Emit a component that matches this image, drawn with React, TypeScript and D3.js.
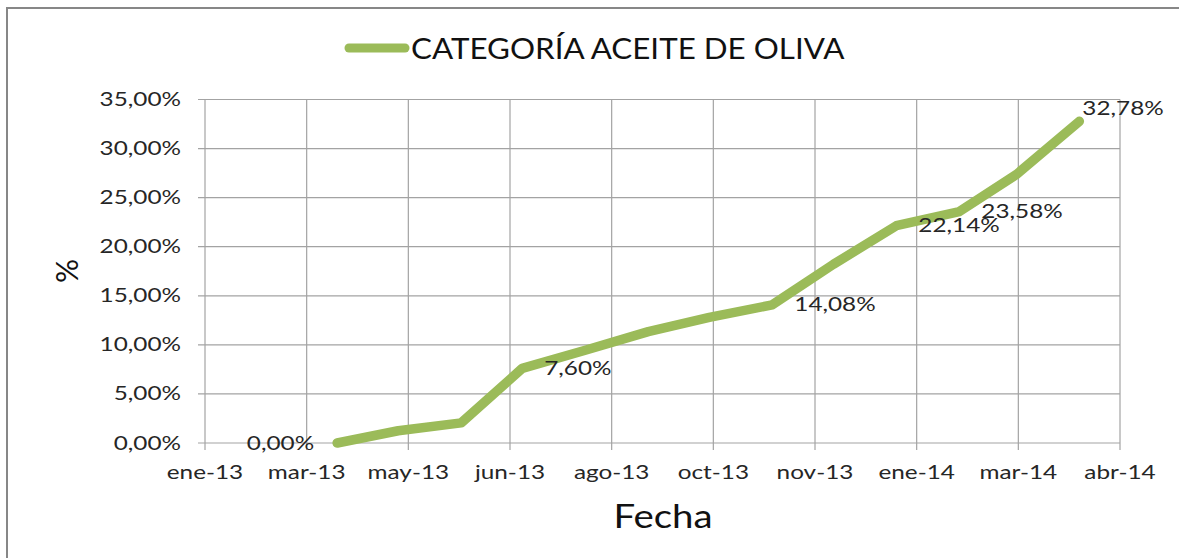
import React from "react";
import * as d3 from "d3";

// monthly share of the olive oil category (%)
const fechas = [
  "2013-04-01", "2013-05-01", "2013-06-01", "2013-07-01", "2013-08-01",
  "2013-09-01", "2013-10-01", "2013-11-01", "2013-12-01", "2014-01-01",
  "2014-02-01", "2014-03-01", "2014-04-01",
];
const cuota = [0, 1.25, 2.05, 7.6, 9.45, 11.35, 12.8, 14.08, 18.2, 22.14, 23.58, 27.35, 32.78];

// points that carry a data label
const etiquetados = [0, 3, 7, 9, 10, 12];

// x axis (date axis, major unit 50 days)
const ejeInicio = "2013-01-26";
const unidadDias = 50;
const etiquetasX = ["ene-13", "mar-13", "may-13", "jun-13", "ago-13", "oct-13", "nov-13", "ene-14", "mar-14", "abr-14"];

// y axis
const valoresY = [0, 5, 10, 15, 20, 25, 30, 35];
const etiquetasY = ["0,00%", "5,00%", "10,00%", "15,00%", "20,00%", "25,00%", "30,00%", "35,00%"];

const serie = "CATEGORÍA ACEITE DE OLIVA";

const W = 1179, H = 558;
const margin = { top: 99.5, right: 59, bottom: 115, left: 205 };
const VERDE = "#9bbb59";
const FONT = "Lato, 'Open Sans', sans-serif";
const SX = 1.28; // source picture is stretched horizontally

export default function App() {
  const parse = d3.utcParse("%Y-%m-%d");
  const t0 = parse(ejeInicio) as Date;
  const tickDates = etiquetasX.map((_, i) => d3.utcDay.offset(t0, i * unidadDias));

  const x = d3.scaleUtc()
    .domain([t0, tickDates[tickDates.length - 1]])
    .range([margin.left, W - margin.right]);
  const y = d3.scaleLinear()
    .domain([0, 35])
    .range([H - margin.bottom, margin.top]);

  const pts = fechas.map((f, i) => ({ d: parse(f) as Date, v: cuota[i] }));
  const line = d3.line<{ d: Date; v: number }>()
    .x(p => x(p.d))
    .y(p => y(p.v));

  const fmt = (v: number) => d3.format(".2f")(v).replace(".", ",") + "%";
  const y0 = y(0);

  return (
    <svg width={W} height={H} style={{ position: "absolute", left: 0, top: 0 }}>
      <rect x={0} y={0} width={W} height={H} fill="#fff" />
      <rect x={7} y={8} width={W + 10} height={H + 10} fill="none" stroke="#878787" strokeWidth={2} />

      {/* legend */}
      <line x1={349} x2={405} y1={48} y2={48} stroke={VERDE} strokeWidth={9} strokeLinecap="round" />
      <text transform={`translate(411,58.5) scale(1.12,1)`} fontFamily={FONT} fontSize={28} fill="#111">{serie}</text>

      {/* gridlines */}
      <g stroke="#a3a3a3" strokeWidth={1.2}>
        {valoresY.map(v => (
          <line key={"h" + v} x1={margin.left - 7} x2={W - margin.right} y1={y(v)} y2={y(v)} />
        ))}
        {tickDates.map((d, i) => (
          <line key={"v" + i} x1={x(d)} x2={x(d)} y1={margin.top} y2={y0 + 7} />
        ))}
      </g>

      {/* y tick labels */}
      <g fontFamily={FONT} fontSize={19} fill="#262626" textAnchor="end">
        {valoresY.map((v, i) => (
          <text key={v} transform={`translate(181,${y(v) + 6.5}) scale(${SX},1)`}>{etiquetasY[i]}</text>
        ))}
      </g>

      {/* x tick labels */}
      <g fontFamily={FONT} fontSize={19} fill="#262626" textAnchor="middle">
        {tickDates.map((d, i) => (
          <text key={i} transform={`translate(${x(d)},${y0 + 36}) scale(${SX},1)`}>{etiquetasX[i]}</text>
        ))}
      </g>

      {/* axis titles */}
      <text transform={`translate(663,528) scale(1.2,1)`} textAnchor="middle" fontFamily={FONT} fontSize={32} fill="#111">Fecha</text>
      <text transform={`translate(78,271) rotate(-90)`} textAnchor="middle" fontFamily={FONT} fontSize={30} fill="#111">%</text>

      {/* series */}
      <path d={line(pts) ?? ""} fill="none" stroke={VERDE} strokeWidth={9.5} strokeLinecap="round" strokeLinejoin="round" />

      {/* data labels */}
      <g fontFamily={FONT} fontSize={19} fill="#262626">
        {etiquetados.map(i => {
          const p = pts[i];
          const px = x(p.d), py = y(p.v);
          if (i === 0)
            return <text key={i} textAnchor="end" transform={`translate(${px - 23},${py + 6.5}) scale(${SX},1)`}>{fmt(p.v)}</text>;
          if (i === pts.length - 1)
            return <text key={i} transform={`translate(${px + 3},${py - 6.5}) scale(${SX},1)`}>{fmt(p.v)}</text>;
          return <text key={i} transform={`translate(${px + 22},${py + 6.5}) scale(${SX},1)`}>{fmt(p.v)}</text>;
        })}
      </g>
    </svg>
  );
}
